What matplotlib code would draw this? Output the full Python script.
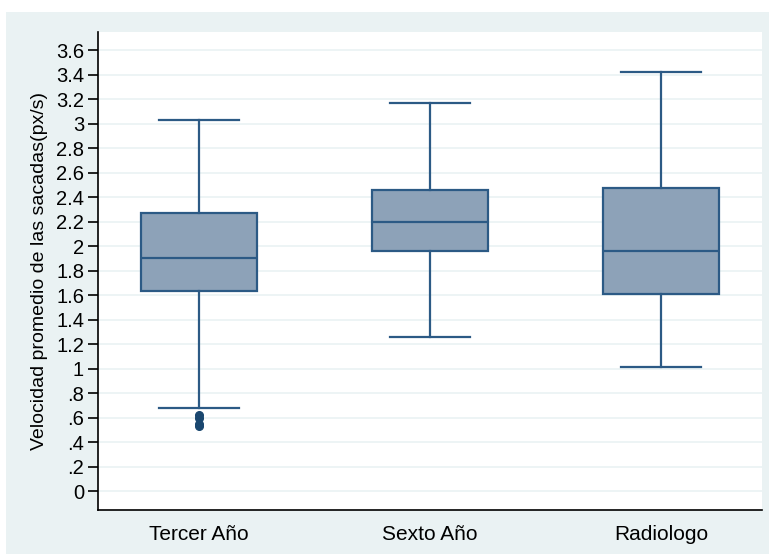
import matplotlib
matplotlib.use("Agg")
import matplotlib.pyplot as plt
from matplotlib.patches import Rectangle

plt.rcParams['font.family'] = ['Liberation Sans', 'DejaVu Sans']

groups = ["Tercer Año", "Sexto Año", "Radiologo"]
whisker_low = [0.68, 1.26, 1.01]
q1 = [1.63, 1.96, 1.61]
median = [1.90, 2.20, 1.96]
q3 = [2.27, 2.46, 2.47]
whisker_high = [3.03, 3.17, 3.42]
outliers = [[0.62, 0.60, 0.55, 0.53], [], []]

yticks = [0, 0.2, 0.4, 0.6, 0.8, 1, 1.2, 1.4, 1.6, 1.8, 2, 2.2, 2.4, 2.6, 2.8, 3, 3.2, 3.4, 3.6]
ytick_labels = ["0", ".2", ".4", ".6", ".8", "1", "1.2", "1.4", "1.6", "1.8", "2",
                "2.2", "2.4", "2.6", "2.8", "3", "3.2", "3.4", "3.6"]

line_col = "#2C5A85"
fill_col = "#8DA2B8"
outlier_col = "#1A476F"
panel_col = "#EAF2F3"

fig = plt.figure(figsize=(7.69, 5.54), dpi=100, facecolor="white")
fig.patches.append(Rectangle((6 / 769, 0), 1, 1 - 12 / 554, transform=fig.transFigure,
                             facecolor=panel_col, edgecolor="none", zorder=-5))

ax = fig.add_axes([98 / 769, 44 / 554, 664 / 769, 478 / 554])
ax.set_facecolor("white")

stats = []
for i, g in enumerate(groups):
    stats.append(dict(label=g, whislo=whisker_low[i], q1=q1[i], med=median[i],
                      q3=q3[i], whishi=whisker_high[i], fliers=outliers[i]))

ax.bxp(stats, positions=[1, 2, 3], widths=0.5, capwidths=0.346, patch_artist=True,
       boxprops=dict(facecolor=fill_col, edgecolor=line_col, linewidth=1.6),
       medianprops=dict(color=line_col, linewidth=1.6),
       whiskerprops=dict(color=line_col, linewidth=1.6),
       capprops=dict(color=line_col, linewidth=1.6),
       flierprops=dict(marker="o", markersize=5.5, markerfacecolor=outlier_col,
                       markeredgecolor=outlier_col))

ax.set_xlim(0.563, 3.437)
ax.set_ylim(-0.155, 3.747)
ax.set_yticks(yticks)
ax.set_yticklabels(ytick_labels)
ax.yaxis.grid(True, color=panel_col, linewidth=1.2)
ax.set_axisbelow(True)

for s in ["top", "right"]:
    ax.spines[s].set_visible(False)
for s in ["left", "bottom"]:
    ax.spines[s].set_color("black")
    ax.spines[s].set_linewidth(1.2)

ax.tick_params(axis="y", length=7, width=1.2, labelsize=14.5, pad=3, colors="black")
ax.tick_params(axis="x", length=0, labelsize=15, pad=11)
ax.set_ylabel("Velocidad promedio de las sacadas(px/s)", fontsize=14, labelpad=6)

fig.savefig("out.png", dpi=100, facecolor="white")
